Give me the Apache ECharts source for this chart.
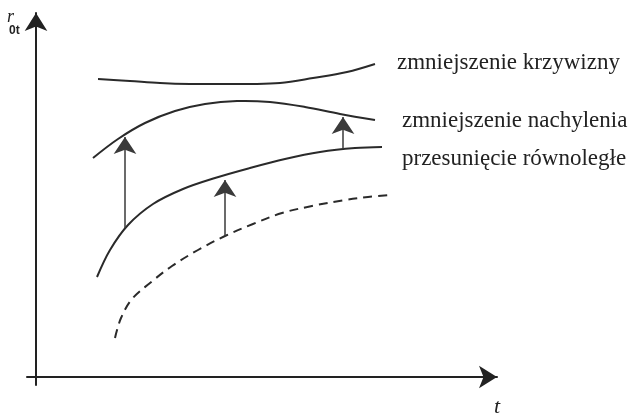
<!DOCTYPE html>
<html>
<head>
<meta charset="utf-8">
<script src="https://cdn.jsdelivr.net/npm/echarts@6/dist/echarts.min.js"></script>
<style>html,body{margin:0;padding:0;background:#fff}#c{width:633px;height:413px}</style>
</head>
<body>
<div id="c"></div>
<script>
// Curve: zmniejszenie krzywizny
var curvX = [62, 94, 124, 154, 184, 214, 244, 277, 311, 339];
var curvY = [298, 296, 294, 293, 293, 293, 294, 299, 305, 313];
// Curve: zmniejszenie nachylenia
var slopeX = [57, 82, 109, 139, 169, 201, 234, 269, 304, 339];
var slopeY = [219, 238, 254, 266, 273, 276, 275, 270, 263, 257];
// Curve: przesunięcie równoległe
var shiftX = [61, 74, 92, 117, 147, 179, 214, 249, 284, 319, 346];
var shiftY = [100, 127, 152, 173, 188, 199, 209, 218, 225, 229, 230];
// Base curve (dashed)
var baseX = [79, 85, 96, 114, 136, 162, 189, 217, 246, 276, 309, 332, 354];
var baseY = [39, 59, 78, 94, 111, 127, 141, 153, 164, 171, 177, 180, 182];
// Arrows: x, from y, to y
var arrowX = [89, 307, 189];
var arrowFrom = [149, 228, 141];
var arrowTo = [240, 260, 197];
var labels = ['zmniejszenie krzywizny', 'zmniejszenie nachylenia', 'przesunięcie równoległe'];

function pairs(xs, ys) { return xs.map(function (x, i) { return [x, ys[i]]; }); }

var chart = echarts.init(document.getElementById('c'), null, {renderer: 'canvas'});
var ink = '#2a2a2a';
var axisBase = {
  type: 'value',
  axisLine: {show: true, onZero: true, symbol: ['none', 'arrow'], symbolSize: [17, 18], lineStyle: {color: '#222', width: 2}},
  axisTick: {show: false}, axisLabel: {show: false}, splitLine: {show: false}
};
function curve(xs, ys, dash) {
  var data = pairs(xs, ys);
  return {
    type: 'custom', coordinateSystem: 'cartesian2d', silent: true, data: data,
    renderItem: function (params, api) {
      if (params.dataIndex !== 0) return null;
      var pts = data.map(function (p) { return api.coord(p); });
      return {type: 'polyline', shape: {points: pts, smooth: 0.35},
              style: {stroke: ink, lineWidth: 2, fill: 'none', lineDash: dash || null}};
    }
  };
}
chart.setOption({
  animation: false,
  grid: {left: 27, right: 136, top: 13, bottom: 28},
  xAxis: Object.assign({}, axisBase, {min: -9, max: 461}),
  yAxis: Object.assign({}, axisBase, {min: -8, max: 364}),
  series: [
    curve(curvX, curvY),
    curve(slopeX, slopeY),
    curve(shiftX, shiftY),
    curve(baseX, baseY, [9, 6]),
    {type: 'lines', coordinateSystem: 'cartesian2d', symbol: ['none', 'arrow'], symbolSize: [14, 17],
     lineStyle: {color: '#3a3a3a', width: 1.5, opacity: 1},
     data: arrowX.map(function (x, i) { return {coords: [[x, arrowFrom[i]], [x, arrowTo[i]]]}; })}
  ],
  graphic: [
    {type: 'text', left: 397, top: 51, style: {text: labels[0], font: '23px "Liberation Serif"', fill: '#222'}},
    {type: 'text', left: 402, top: 109, style: {text: labels[1], font: '23px "Liberation Serif"', fill: '#222'}},
    {type: 'text', left: 402, top: 147, style: {text: labels[2], font: '23px "Liberation Serif"', fill: '#222'}},
    {type: 'text', left: 7, top: 8, style: {text: 'r', font: 'italic 18px "Liberation Serif"', fill: '#222'}},
    {type: 'text', left: 9, top: 25, style: {text: '0t', font: 'bold 12px "Liberation Sans"', fill: '#222'}},
    {type: 'text', left: 494, top: 396, style: {text: 't', font: 'italic 22px "Liberation Serif"', fill: '#222'}}
  ]
});
</script>
</body>
</html>
